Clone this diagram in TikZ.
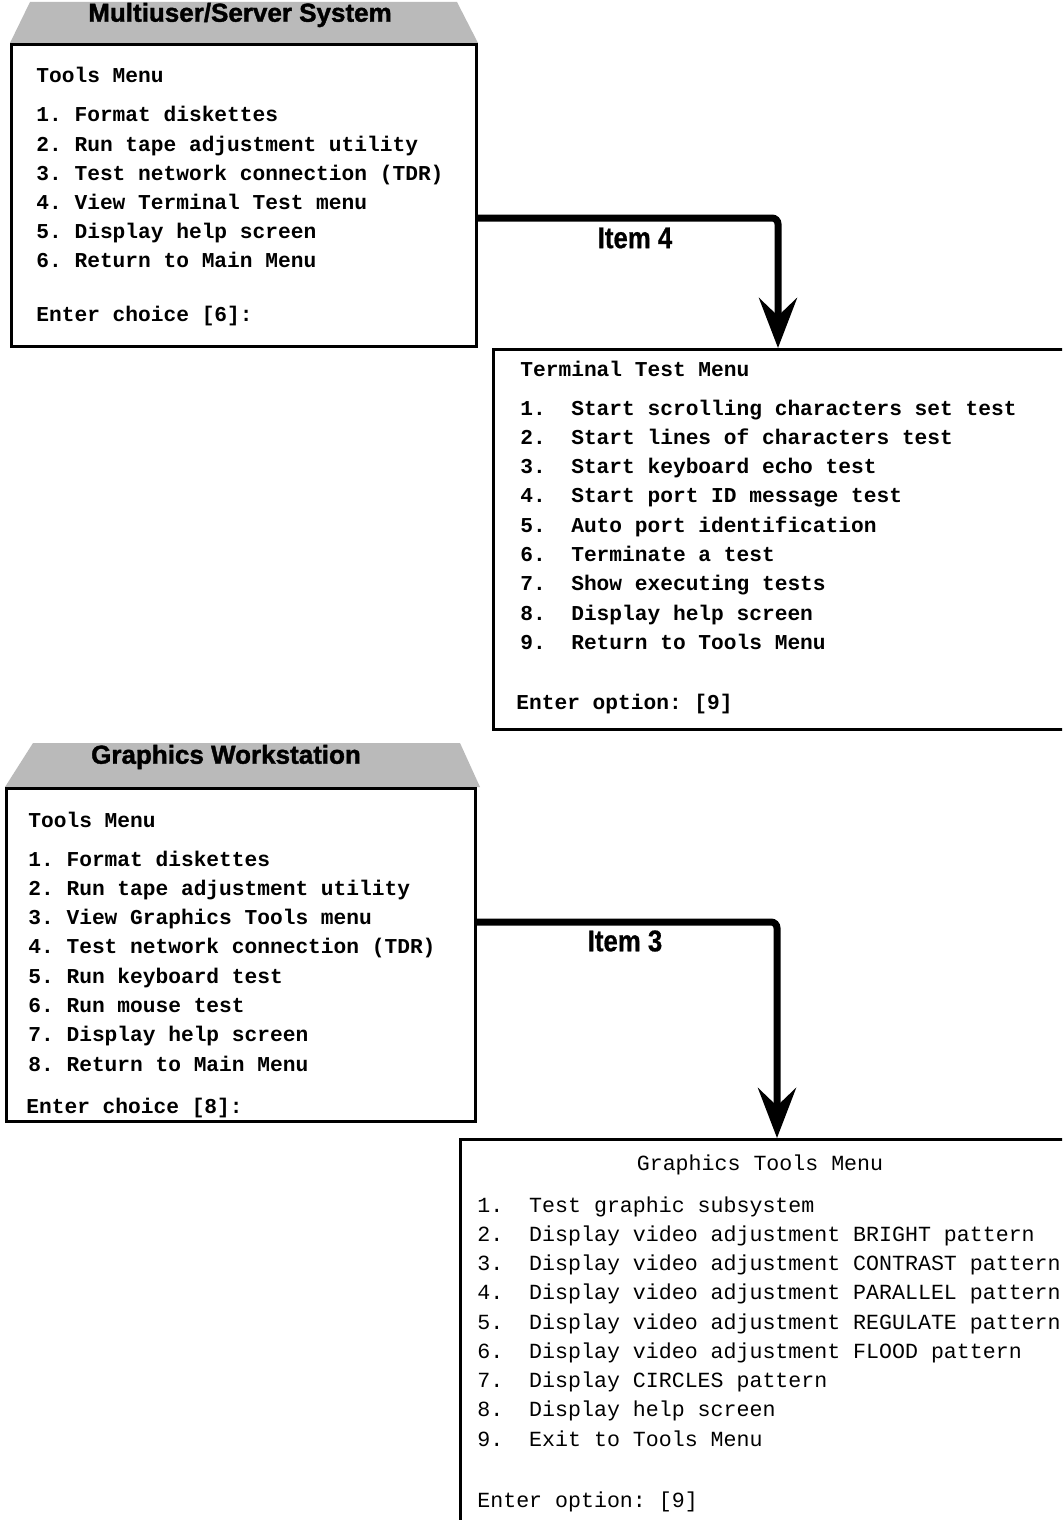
\documentclass[tikz,border=0pt]{standalone}
\usepackage{fontspec}
\setmonofont{Liberation Mono}
\newfontfamily\titlefont{Liberation Sans}[FakeBold=1.5]
\newfontfamily\labelfont{Liberation Sans}[FakeStretch=0.86, FakeBold=0.6]
\usepackage{tikz}
\usetikzlibrary{arrows.meta, positioning, calc}

\begin{document}
\frenchspacing
\begin{tikzpicture}[
  x=0.5pt, y=-0.5pt,
  menubox/.style={rectangle, draw, line width=1.5pt, anchor=north west, inner sep=0pt},
  tabfill/.style={fill=black!27},
  tabtitle/.style={inner sep=0pt, font=\titlefont\bfseries\fontsize{13}{15}\selectfont},
  menuline/.style={anchor=base west, inner sep=0pt, font=\ttfamily\bfseries\fontsize{10.6}{12}\selectfont},
  plainline/.style={anchor=base west, inner sep=0pt, font=\ttfamily\fontsize{10.8}{12}\selectfont},
  itemlabel/.style={inner sep=0pt, font=\labelfont\bfseries\fontsize{15}{17}\selectfont},
  flowarrow/.style={line width=3.5pt, rounded corners=3pt, -{Stealth[length=25pt, width=19pt, inset=9pt]}}
]
\clip (0,0) rectangle (1062,1520);

% Multiuser/Server System
\fill[tabfill] (30,2) -- (457,2) -- (478,43) -- (10,43) -- cycle;
\node[tabtitle] (mstitle) at (240,15) {Multiuser/Server System};
\node[menubox, minimum width=232.5pt, minimum height=151pt] (tools1) at (10,43) {};

\node[menuline] (ms-head) at (36,83) {Tools Menu};
\foreach \txt [count=\i] in {Format diskettes, Run tape adjustment utility,
  Test network connection (TDR), View Terminal Test menu,
  Display help screen, Return to Main Menu}
  \node[menuline] (ms-\i) at (36,{122+29*(\i-1)}) {\i. \txt};
\node[menuline] (ms-enter) at (36,321) {Enter choice [6]:};

% Terminal Test Menu
\node[menubox, minimum width=294pt, minimum height=190pt] (term) at (492,348) {};
\node[menuline] (tt-head) at (520,376) {Terminal Test Menu};
\foreach \txt [count=\i] in {Start scrolling characters set test,
  Start lines of characters test, Start keyboard echo test,
  Start port ID message test, Auto port identification,
  Terminate a test, Show executing tests, Display help screen,
  Return to Tools Menu}
  \node[menuline] (tt-\i) at (520,{415+29.3*(\i-1)}) {\i.~~\txt};
\node[menuline] (tt-enter) at (516,709) {Enter option: [9]};

% Graphics Workstation
\fill[tabfill] (33,743) -- (460,743) -- (480,787) -- (5,787) -- cycle;
\node[tabtitle] (gwtitle) at (226,757) {Graphics Workstation};
\node[menubox, minimum width=234.5pt, minimum height=166.5pt] (tools2) at (5,787) {};

\node[menuline] (gw-head) at (28,827) {Tools Menu};
\foreach \txt [count=\i] in {Format diskettes, Run tape adjustment utility,
  View Graphics Tools menu, Test network connection (TDR),
  Run keyboard test, Run mouse test, Display help screen,
  Return to Main Menu}
  \node[menuline] (gw-\i) at (28,{866+29.3*(\i-1)}) {\i. \txt};
\node[menuline] (gw-enter) at (26,1113) {Enter choice [8]:};

% Graphics Tools Menu
\node[menubox, minimum width=310.5pt, minimum height=201pt] (gtools) at (459,1138) {};
\node[plainline, anchor=base] (gt-head) at (760,1170) {Graphics Tools Menu};
\foreach \txt [count=\i] in {Test graphic subsystem,
  Display video adjustment BRIGHT pattern,
  Display video adjustment CONTRAST pattern,
  Display video adjustment PARALLEL pattern,
  Display video adjustment REGULATE pattern,
  Display video adjustment FLOOD pattern,
  Display CIRCLES pattern, Display help screen, Exit to Tools Menu}
  \node[plainline] (gt-\i) at (477,{1212+29.25*(\i-1)}) {\i.~~\txt};
\node[plainline] (gt-enter) at (477,1507) {Enter option: [9]};

% Arrows
\draw[flowarrow] ($(tools1.north east)+(0,175)$) -| ($(term.north west)+(286,0)$);
\node[itemlabel] (item4) at (635,238) {Item 4};

\draw[flowarrow] ($(tools2.north east)+(0,135)$) -| ($(gtools.north west)+(318,0)$);
\node[itemlabel] (item3) at (625,941) {Item 3};

\end{tikzpicture}
\end{document}
